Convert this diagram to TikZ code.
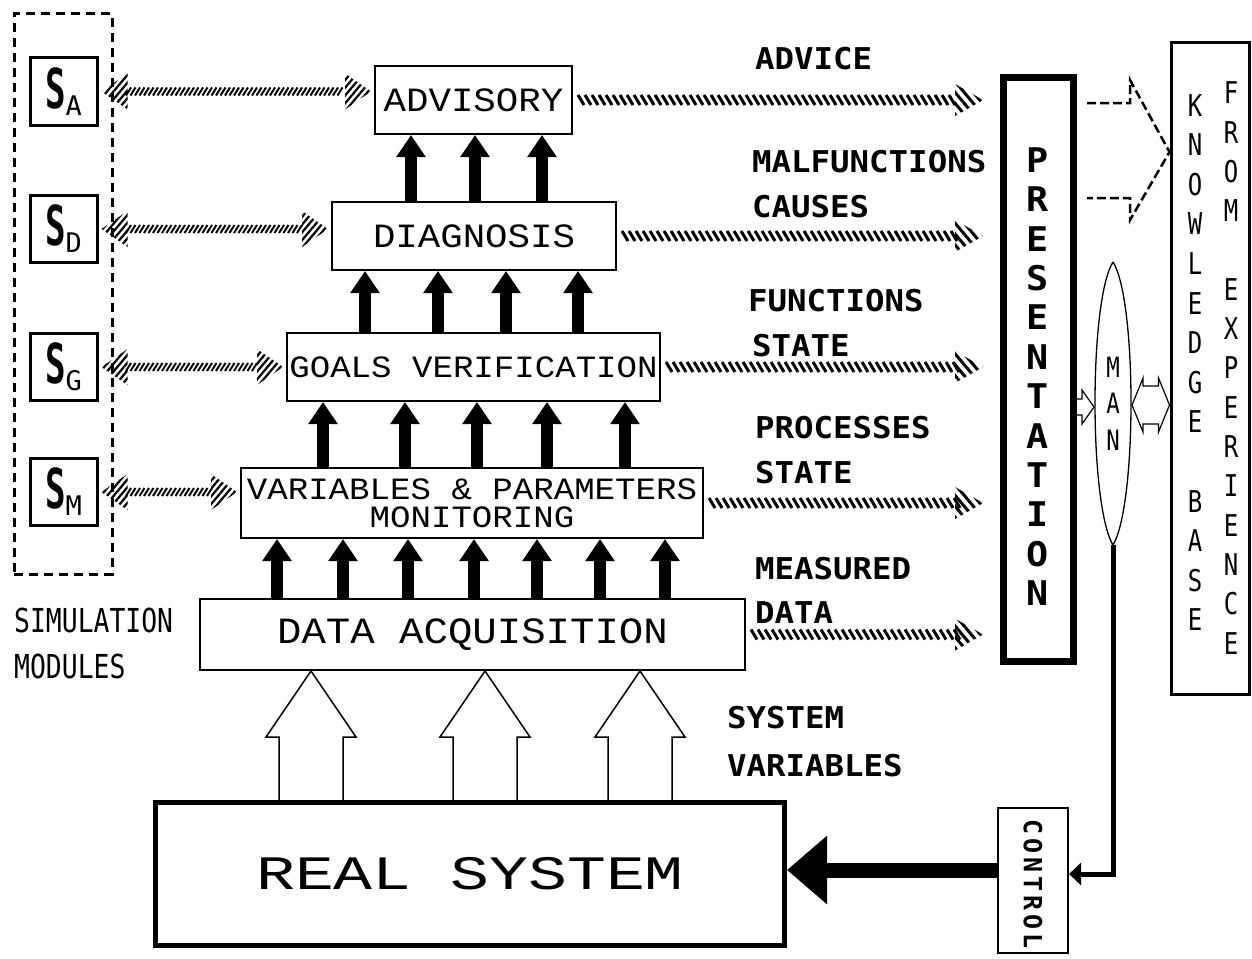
\documentclass[tikz,border=0pt]{standalone}
\usepackage{fontspec}
\usetikzlibrary{arrows.meta,calc,decorations.markings,patterns.meta}

% type faces
\newfontfamily\boxfont[FakeStretch=1.1]{Liberation Mono}
\newfontfamily\widefont[FakeStretch=1.35]{Liberation Mono}
\newfontfamily\tagfont[FakeStretch=1.08]{DejaVu Sans Mono}
\newfontfamily\narrowfont[FakeStretch=0.8]{DejaVu Sans Mono}
\newfontfamily\plainmono{DejaVu Sans Mono}
\newfontfamily\slimfont[FakeStretch=0.62]{DejaVu Sans Mono}
\newfontfamily\ctrlfont[LetterSpace=16]{DejaVu Sans Mono}
\newcommand\fsz[2]{\fontsize{#1pt}{#2pt}\selectfont}
% simulation module label: big S with a lowered index letter
\newcommand\Smod[1]{{\slimfont\bfseries\fsz{55}{55}S}\raisebox{-7pt}{\plainmono\fsz{27}{27}#1}}

\tikzset{
  levelbox/.style={draw, line width=2pt, inner sep=0pt, align=center},
  modbox/.style={draw, line width=3pt, inner sep=0pt, minimum width=67pt, minimum height=67pt},
  tag/.style={anchor=base west, inner sep=0pt, font={\tagfont\bfseries\fsz{30}{30}}},
  stack/.style={inner sep=0pt, align=center},
  uparrow/.style={line width=12pt, -{Triangle[length=22pt,width=28pt]}},
  hollowup/.style={draw, line width=1.5pt, line join=miter,
    to path={let \p1=(\tikztostart), \p2=(\tikztotarget) in
      (\x1-32pt,\y1) -- (\x1-32pt,\y2-66pt) -- (\x1-45pt,\y2-66pt) -- (\x2,\y2)
      -- (\x1+45pt,\y2-66pt) -- (\x1+32pt,\y2-66pt) -- (\x1+32pt,\y1)}},
  hollowright/.style={draw, line width=1.2pt,
    to path={let \p1=(\tikztostart), \p2=(\tikztotarget) in
      (\x1,\y1+8pt) -- (\x2-12pt,\y1+8pt) -- (\x2-12pt,\y1+17pt) -- (\x2,\y1)
      -- (\x2-12pt,\y1-17pt) -- (\x2-12pt,\y1-8pt) -- (\x1,\y1-8pt)}},
  hollowboth/.style={draw, line width=1.2pt,
    to path={let \p1=(\tikztostart), \p2=(\tikztotarget) in
      (\x1,\y1) -- (\x1+11pt,\y1+27pt) -- (\x1+11pt,\y1+19pt) -- (\x2-11pt,\y1+19pt)
      -- (\x2-11pt,\y1+27pt) -- (\x2,\y1) -- (\x2-11pt,\y1-27pt) -- (\x2-11pt,\y1-19pt)
      -- (\x1+11pt,\y1-19pt) -- (\x1+11pt,\y1-27pt) -- cycle}},
  hatchright/.style={postaction={decorate, decoration={markings,
    mark=between positions 8pt and -42pt step 7pt with
      {\draw[line width=3pt] (-3pt,5pt) -- (3pt,-5pt);},
    mark=at position -17pt with
      {\fill[pattern={Lines[angle=-50,distance=7pt,line width=3pt]}]
        (0pt,0pt) -- (-28pt,16pt) -- (-28pt,-16pt) -- cycle;}}}},
  hatchboth/.style={postaction={decorate, decoration={markings,
    mark=at position 3pt with
      {\fill[pattern={Lines[angle=50,distance=5pt,line width=2.2pt]}]
        (0pt,0pt) -- (26pt,18pt) -- (26pt,-18pt) -- cycle;},
    mark=between positions 30pt and -30pt step 4.5pt with
      {\draw[line width=2pt] (-2.5pt,-4pt) -- (2.5pt,4pt);},
    mark=at position -3pt with
      {\fill[pattern={Lines[angle=50,distance=5pt,line width=2.2pt]}]
        (0pt,0pt) -- (-26pt,18pt) -- (-26pt,-18pt) -- cycle;}}}},
  dashline/.style={line width=2.5pt, dash pattern=on 9pt off 4pt},
}

\begin{document}
\begin{tikzpicture}[x=1pt,y=-1pt]
\fill[white] (0,0) rectangle (1252,958);
\useasboundingbox (0,0) rectangle (1252,958);

% simulation modules
\node[draw, line width=3pt, dash pattern=on 9pt off 6pt, minimum width=98pt, minimum height=560pt] (sim) at (63,294) {};
\node[modbox] (sA) at (63.5,91.5) {\Smod{A}};
\node[modbox] (sD) at (63.5,229) {\Smod{D}};
\node[modbox] (sG) at (63.5,367) {\Smod{G}};
\node[modbox] (sM) at (63.5,492) {\Smod{M}};
\node[anchor=base west, inner sep=0pt, font={\narrowfont\fsz{33}{33}}] (simlbl) at (14,632) {SIMULATION};
\node[anchor=base west, inner sep=0pt, font={\narrowfont\fsz{33}{33}}] (modlbl) at (14,678) {MODULES};

% processing levels
\node[levelbox, minimum width=197pt, minimum height=68pt, font={\boxfont\fsz{34}{34}}] (adv) at (473.5,100) {ADVISORY};
\node[levelbox, minimum width=284pt, minimum height=68pt, font={\boxfont\fsz{34}{34}}] (diag) at (474,236) {DIAGNOSIS};
\node[levelbox, minimum width=373pt, minimum height=68pt, font={\boxfont\fsz{31}{31}}] (goal) at (473.5,367) {GOALS VERIFICATION};
\node[levelbox, minimum width=462pt, minimum height=70pt, font={\boxfont\fsz{31}{28}}] (vpm) at (472,503) {VARIABLES \& PARAMETERS\\MONITORING};
\node[levelbox, minimum width=545pt, minimum height=71pt, font={\boxfont\fsz{37}{37}}] (daq) at (472.5,634.5) {DATA ACQUISITION};
\node[draw, line width=5pt, inner sep=0pt, minimum width=629pt, minimum height=143pt, font={\widefont\fsz{48}{48}}] (real) at (470,874) {REAL SYSTEM};

% upward data flow between levels
\foreach \px in {411,475,542} \draw[uparrow] (diag.north -| \px,0) -- (adv.south -| \px,0);
\foreach \px in {365,438,506,578} \draw[uparrow] (goal.north -| \px,0) -- (diag.south -| \px,0);
\foreach \px in {323,405,477,547,625} \draw[uparrow] (vpm.north -| \px,0) -- (goal.south -| \px,0);
\foreach \px in {277,343,408,474,537,600,665} \draw[uparrow] (daq.north -| \px,0) -- (vpm.south -| \px,0);
\foreach \px in {311,485,640} {
  \coordinate (vin) at (real.north -| \px,0);
  \coordinate (vout) at (daq.south -| \px,0);
  \draw[hollowup] (vin) to (vout);
}

% links to the simulation modules
\path[hatchboth] (sA.east) -- (adv.west |- sA.east);
\path[hatchboth] (sD.east) -- (diag.west |- sD.east);
\path[hatchboth] (sG.east) -- (goal.west |- sG.east);
\path[hatchboth] (sM.east) -- (vpm.west |- sM.east);

% operator side
\node[draw, line width=7pt, inner sep=0pt, minimum width=70pt, minimum height=584pt] (pres) at (1038.5,369.5) {};
\node[stack, font={\tagfont\bfseries\fsz{34}{39.4}}] (preslbl) at (1038,376.5) {P\\R\\E\\S\\E\\N\\T\\A\\T\\I\\O\\N};
\node[draw, line width=3pt, inner sep=0pt, minimum width=78pt, minimum height=651pt] (kb) at (1210,368.5) {};
\node[stack, font={\narrowfont\fsz{30}{39.6}}] (kblbl1) at (1195,362.5) {K\\N\\O\\W\\L\\E\\D\\G\\E\\[39.6pt]B\\A\\S\\E};
\node[stack, font={\narrowfont\fsz{30}{39.3}}] (kblbl2) at (1231,368) {F\\R\\O\\M\\[39.3pt]E\\X\\P\\E\\R\\I\\E\\N\\C\\E};
\node[draw, line width=2pt, inner sep=0pt, minimum width=70pt, minimum height=145pt] (ctrl) at (1033,880.5) {};
\node[rotate=-90, inner sep=0pt, font={\ctrlfont\bfseries\fsz{25}{25}}] (ctrllbl) at (1033,884) {CONTROL};

% man
\coordinate (mantop) at (1113,262);
\coordinate (manbot) at (1113,545);
\coordinate (manW) at (1094,407);
\coordinate (manE) at (1132,405);
\coordinate (presM) at (pres.east |- manW);
\coordinate (kbM) at (kb.west |- manE);
\draw[line width=1.3pt] (mantop) .. controls (1089,300) and (1089,505) .. (manbot)
  .. controls (1137,505) and (1137,300) .. (mantop);
\node[stack, font={\narrowfont\fsz{28}{36.5}}] (man) at (1113,403.5) {M\\A\\N};
\draw[hollowright] (presM) to (manW);
\draw[hollowboth] (manE) to (kbM);
\draw[dashline, shorten <=10pt, shorten >=10pt] (pres.east |- 0,103) -- (1130,103) -- (1130,80)
  -- (kb.west |- 0,152) -- (1130,220) -- (1130,198) -- (pres.east |- 0,198);

% control path
\draw[line width=5pt, -{Triangle[length=12pt,width=22pt]}] (manbot) |- (ctrl.east |- 0,874);
\draw[line width=15pt, -{Triangle[length=40pt,width=66pt]}] (ctrl.west |- 0,870) -- (real.east |- 0,870);

% outputs to the presentation
\path[hatchright] (adv.east) -- (pres.west |- adv.east);
\path[hatchright] (diag.east) -- (pres.west |- diag.east);
\path[hatchright] (goal.east) -- (pres.west |- goal.east);
\path[hatchright] (vpm.east) -- (pres.west |- vpm.east);
\path[hatchright] (daq.east) -- (pres.west |- daq.east);

\node[tag] (t1) at (755,70) {ADVICE};
\node[tag] (t2) at (752,172) {MALFUNCTIONS};
\node[tag] (t3) at (752,217) {CAUSES};
\node[tag] (t4) at (748,311) {FUNCTIONS};
\node[tag] (t5) at (752,356) {STATE};
\node[tag] (t6) at (755,438) {PROCESSES};
\node[tag] (t7) at (755,483) {STATE};
\node[tag] (t8) at (755,579) {MEASURED};
\node[tag] (t9) at (755,623) {DATA};
\node[tag] (t10) at (727,728) {SYSTEM};
\node[tag] (t11) at (727,776) {VARIABLES};
\end{tikzpicture}
\end{document}
